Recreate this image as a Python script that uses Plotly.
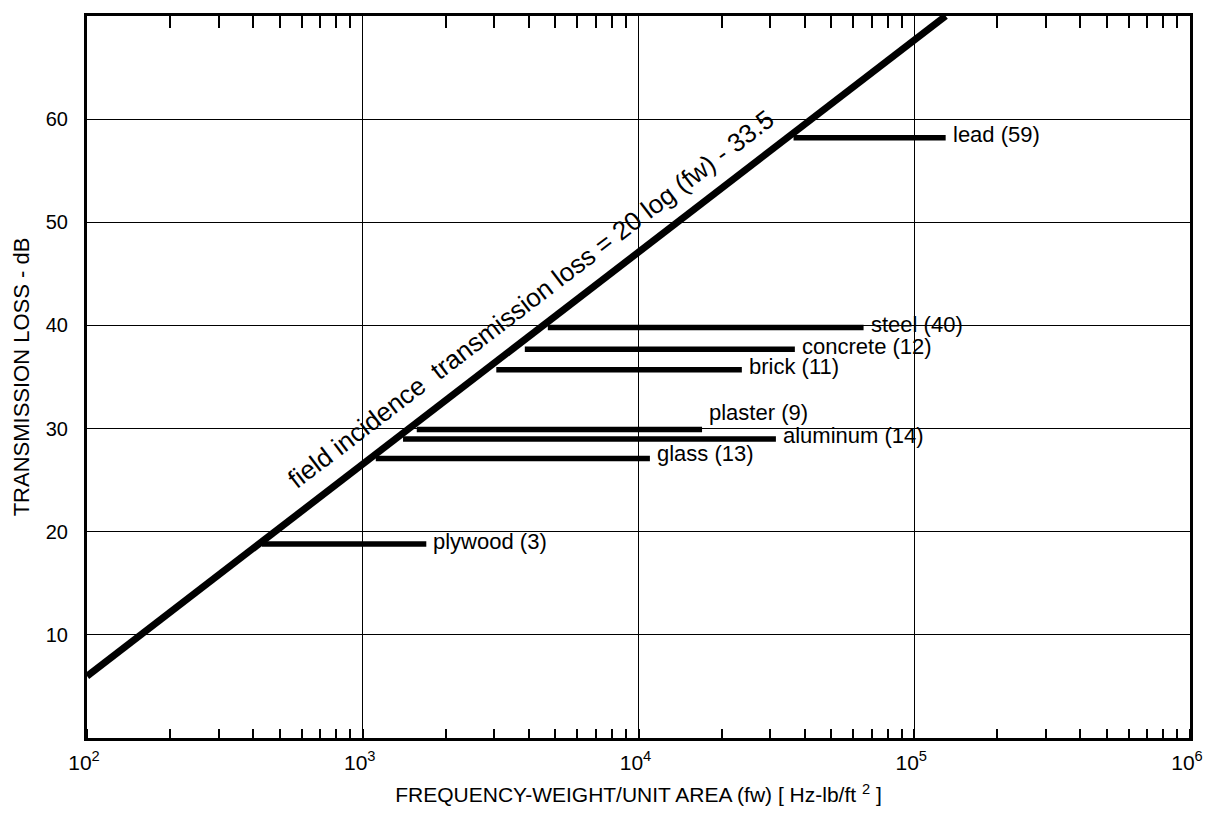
import math
import plotly.graph_objects as go

# ---- data ----
line_fw = [100, 130000]
line_tl = [6.0, 70.0]

materials = ["plywood (3)", "glass (13)", "aluminum (14)", "plaster (9)",
             "brick (11)", "concrete (12)", "steel (40)", "lead (59)"]
bar_start = [431, 1115, 1400, 1570, 3050, 3870, 4690, 36500]
bar_end = [1700, 11000, 31500, 17000, 23700, 36900, 65500, 130000]
bar_tl = [18.8, 27.1, 29.0, 29.9, 35.7, 37.7, 39.8, 58.2]

x_tickvals = [100, 1000, 10000, 100000, 1000000]
x_ticktext = ["10<sup>2</sup>", "10<sup>3</sup>", "10<sup>4</sup>", "10<sup>5</sup>", "10<sup>6</sup>"]
y_tickvals = [10, 20, 30, 40, 50, 60]
minor_multipliers = [2, 3, 4, 5, 6, 7, 8, 9]
minor_tickvals = [m * d for d in x_tickvals[:-1] for m in minor_multipliers]

line_label = "field incidence  transmission loss = 20 log (fw) - 33.5"
line_label_fw = 4075
line_label_tl = 42.6

FONT = "Liberation Sans, Arial, sans-serif"
fig = go.Figure()

for name, xs, xe, y in zip(materials, bar_start, bar_end, bar_tl):
    fig.add_trace(go.Scatter(x=[xs, xe], y=[y, y], mode="lines",
                             line=dict(color="black", width=5.5),
                             showlegend=False, hoverinfo="skip"))

fig.add_trace(go.Scatter(x=line_fw, y=line_tl, mode="lines",
                         line=dict(color="black", width=7),
                         showlegend=False, hoverinfo="skip"))
# invisible trace to carry the mirrored top axis
fig.add_trace(go.Scatter(x=line_fw, y=line_tl, mode="lines", xaxis="x2",
                         line=dict(color="rgba(0,0,0,0)", width=0),
                         showlegend=False, hoverinfo="skip"))

label_yshift = {"plaster (9)": 17, "glass (13)": 5}
for name, xe, y in zip(materials, bar_end, bar_tl):
    fig.add_annotation(x=math.log10(xe), y=y, text=name, showarrow=False,
                       xanchor="left", yanchor="middle", xshift=5,
                       yshift=label_yshift.get(name, 3),
                       font=dict(family=FONT, size=22, color="black"))

fig.add_annotation(x=math.log10(line_label_fw), y=line_label_tl, xref="x", yref="y",
                   showarrow=False, text=line_label, textangle=-37.4,
                   font=dict(family=FONT, size=26, color="black"))

fig.update_layout(
    width=1200, height=811,
    margin=dict(l=79, r=13, t=5, b=81),
    plot_bgcolor="white", paper_bgcolor="white",
    xaxis=dict(type="log", range=[2, 6],
               tickvals=x_tickvals, ticktext=x_ticktext,
               showgrid=True, gridcolor="black", gridwidth=1,
               showline=True, linecolor="black", linewidth=3, mirror=True,
               ticks="", ticklabelstandoff=4, ticklabelshift=-3,
               minor=dict(ticks="inside", ticklen=9, tickcolor="black",
                          tickwidth=1.5, showgrid=False, dtick="D1"),
               tickfont=dict(family=FONT, size=21, color="black"),
               title=dict(text="FREQUENCY-WEIGHT/UNIT AREA (fw) [ Hz-lb/ft <sup>2</sup> ]",
                          font=dict(family=FONT, size=21, color="black"),
                          standoff=15),
               zeroline=False),
    xaxis2=dict(type="log", range=[2, 6], overlaying="x", side="top", anchor="y",
                showgrid=False, showline=False, showticklabels=False,
                tickmode="array", tickvals=minor_tickvals,
                ticks="inside", ticklen=12, tickcolor="black", tickwidth=1.5,
                zeroline=False),
    yaxis=dict(range=[0, 70], tickvals=y_tickvals,
               showgrid=True, gridcolor="black", gridwidth=1,
               showline=True, linecolor="black", linewidth=3, mirror=True,
               ticks="", ticklabelstandoff=12,
               tickfont=dict(family=FONT, size=20, color="black"),
               title=dict(text="TRANSMISSION LOSS - dB",
                          font=dict(family=FONT, size=22, color="black"),
                          standoff=11),
               zeroline=False),
)

fig.write_html("out.html")
